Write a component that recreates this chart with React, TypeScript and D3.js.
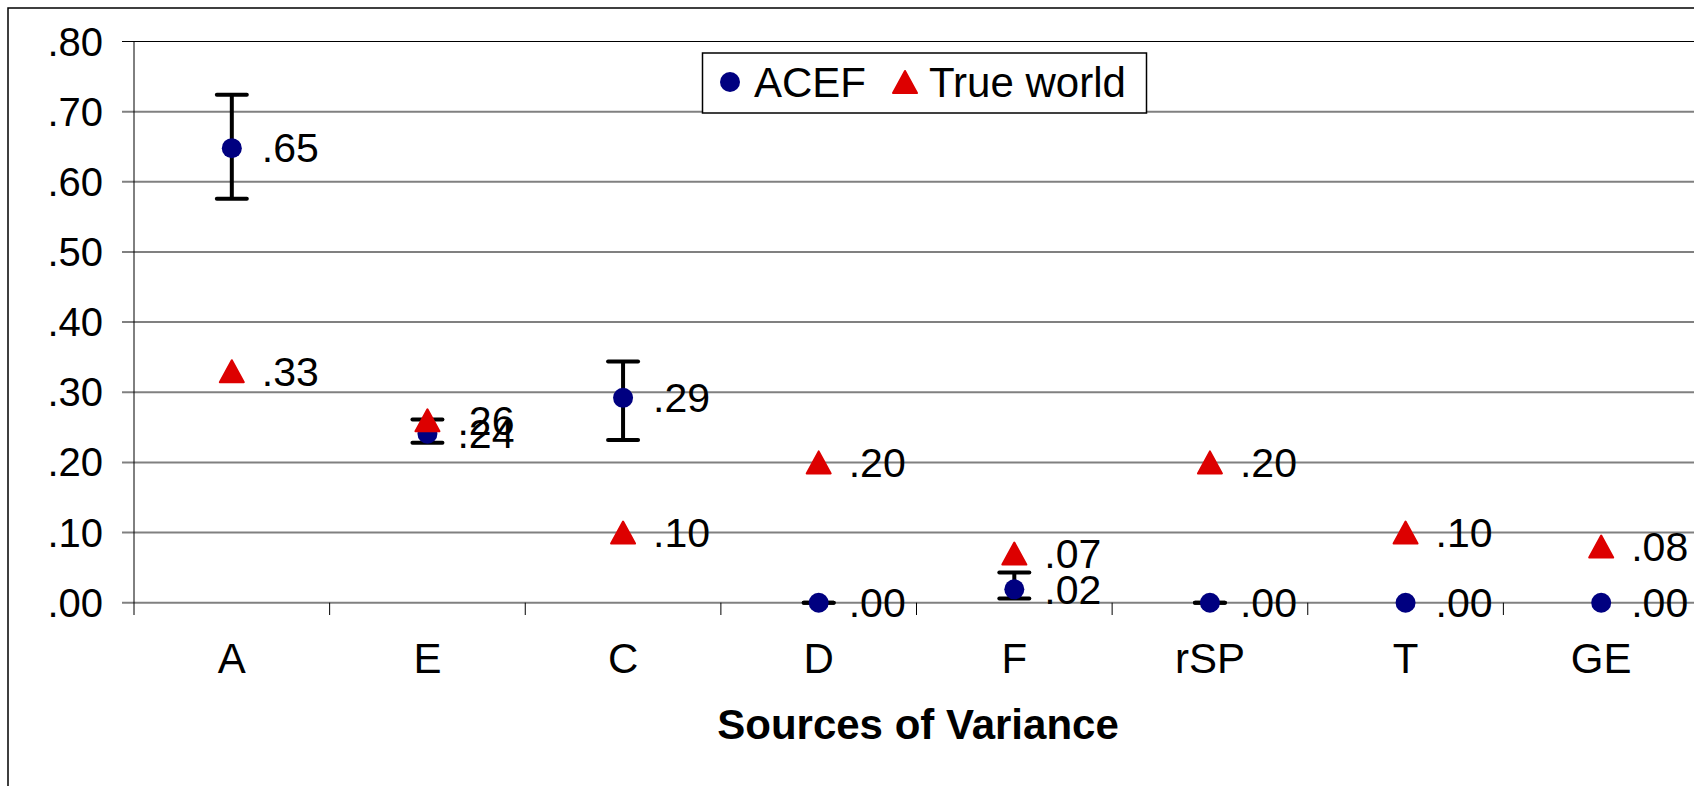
import React from "react";
import * as d3 from "d3";

const categories = ["A", "E", "C", "D", "F", "rSP", "T", "GE"];
const acef = [0.648, 0.241, 0.292, 0, 0.019, 0, 0, 0];
const acefLow = [0.576, 0.228, 0.232, 0, 0.006, 0, null, null];
const acefHigh = [0.724, 0.261, 0.344, 0, 0.043, 0, null, null];
const trueWorld = [0.33, 0.26, 0.1, 0.2, 0.07, 0.2, 0.1, 0.08];
const yTicks = [0, 0.1, 0.2, 0.3, 0.4, 0.5, 0.6, 0.7, 0.8];

const W = 1694,
  H = 786;
const left = 134,
  right = 1699,
  top = 41.5,
  bottom = 602.7;

const x = d3.scaleBand().domain(categories).range([left, right]);
const y = d3.scaleLinear().domain([0, 0.8]).range([bottom, top]);
const fmt = (v: number) => d3.format(".2f")(v).replace(/^0/, "");

const font = "Arial, 'Liberation Sans', sans-serif";
const navy = "#000080";
const red = "#dd0000";

// triangle marker, centred on its bounding box
const tri = "M0,-11 L12,11 L-12,11 Z";

export default function App() {
  const cx = (c: string) => (x(c) as number) + x.bandwidth() / 2;
  return (
    <svg
      width={W}
      height={H}
      style={{ position: "absolute", left: 0, top: 0, background: "#fff" }}
      fontFamily={font}
    >
      <rect x={8} y={8} width={W + 20} height={H + 20} fill="#fff" stroke="#000" strokeWidth={1.5} />

      {/* gridlines */}
      {yTicks.map((t) => (
        <line
          key={t}
          x1={122}
          x2={W}
          y1={y(t)}
          y2={y(t)}
          stroke={t === 0.8 ? "#000" : "#808080"}
          strokeWidth={t === 0.8 ? 1 : 2}
        />
      ))}

      {/* y axis */}
      <line x1={left} x2={left} y1={top} y2={615} stroke="#000" strokeWidth={1} />
      {yTicks.map((t) => (
        <text key={t} x={103} y={y(t)} dy="0.35em" textAnchor="end" fontSize={40}>
          {fmt(t)}
        </text>
      ))}

      {/* x ticks and labels */}
      {categories.map((c) => (
        <g key={c}>
          <line x1={x(c)! + x.bandwidth()} x2={x(c)! + x.bandwidth()} y1={bottom} y2={615} stroke="#000" strokeWidth={1} />
          <text x={cx(c)} y={673} textAnchor="middle" fontSize={42}>
            {c}
          </text>
        </g>
      ))}
      <text x={918} y={739} textAnchor="middle" fontSize={42} fontWeight="bold">
        Sources of Variance
      </text>

      {/* error bars */}
      {categories.map((c, i) => {
        const lo = acefLow[i],
          hi = acefHigh[i];
        if (lo === null || hi === null) return null;
        const px = cx(c);
        return (
          <g key={c} stroke="#000" strokeWidth={4}>
            <line x1={px} x2={px} y1={y(lo)} y2={y(hi)} />
            <line x1={px - 15} x2={px + 15} y1={y(lo)} y2={y(lo)} strokeLinecap="round" />
            <line x1={px - 15} x2={px + 15} y1={y(hi)} y2={y(hi)} strokeLinecap="round" />
          </g>
        );
      })}

      {/* ACEF points */}
      {categories.map((c, i) => (
        <g key={c}>
          <circle cx={cx(c)} cy={y(acef[i])} r={10} fill={navy} />
          <text x={cx(c) + 30} y={y(acef[i])} dy="0.35em" fontSize={41}>
            {fmt(acef[i])}
          </text>
        </g>
      ))}

      {/* True world points */}
      {categories.map((c, i) => (
        <g key={c}>
          <path
            d={tri}
            transform={`translate(${cx(c)},${y(trueWorld[i])})`}
            fill={red}
            stroke={red}
            strokeWidth={2}
            strokeLinejoin="round"
          />
          <text x={cx(c) + 30} y={y(trueWorld[i])} dy="0.35em" fontSize={41}>
            {fmt(trueWorld[i])}
          </text>
        </g>
      ))}

      {/* legend */}
      <rect x={702.5} y={53} width={444} height={60} fill="#fff" stroke="#000" strokeWidth={1.5} />
      <circle cx={730} cy={82} r={10} fill={navy} />
      <text x={754} y={82} dy="0.35em" fontSize={42}>
        ACEF
      </text>
      <path d={tri} transform="translate(905,82)" fill={red} stroke={red} strokeWidth={2} strokeLinejoin="round" />
      <text x={929} y={82} dy="0.35em" fontSize={42}>
        True world
      </text>
    </svg>
  );
}
